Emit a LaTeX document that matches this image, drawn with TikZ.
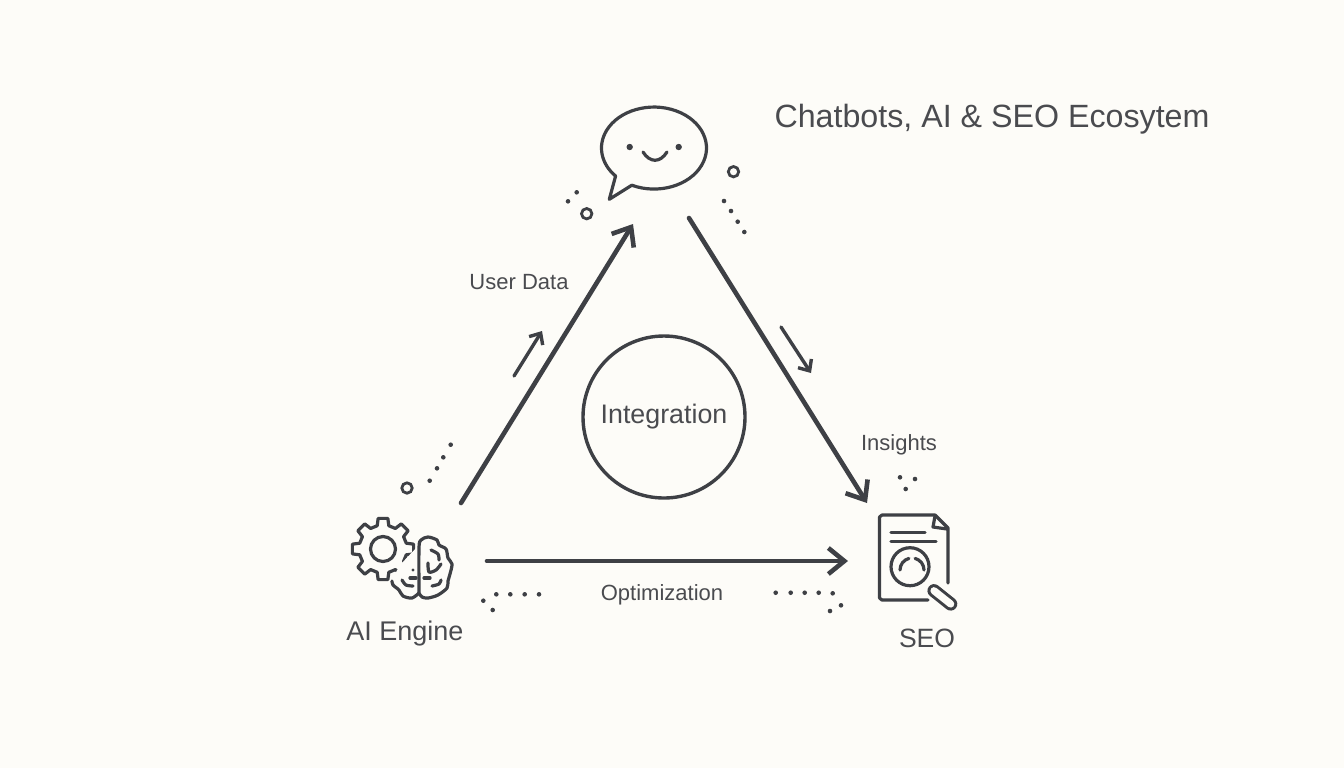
\documentclass[tikz,border=0pt]{standalone}
\usepackage{fontspec}
\setmainfont{Liberation Sans}
\usetikzlibrary{arrows.meta}
\definecolor{inkgray}{HTML}{3E4045}
\definecolor{textgray}{HTML}{4A4B4F}
\definecolor{paper}{HTML}{FDFCF8}
\tikzset{
	mainarrow/.style={draw=inkgray, line width=2.3pt, line cap=round, -{Straight Barb[length=8pt,width=13pt,line width=2.3pt]}},
	smallarrow/.style={draw=inkgray, line width=1.7pt, line cap=round, -{Straight Barb[length=4.5pt,width=8pt,line width=1.7pt]}},
	iconline/.style={draw=inkgray, line width=1.6pt, line cap=round, line join=round},
	ring/.style={draw=inkgray, line width=1.4pt},
	speck/.style={fill=inkgray},
	lbl/.style={text=textgray, inner sep=0pt},
}
\begin{document}
\begin{tikzpicture}[x=0.5pt,y=0.5pt,yscale=-1]
	\fill[paper] (0,0) rectangle (1344,768);
	\useasboundingbox (0,0) rectangle (1344,768);

	% arrow ends
	\coordinate (engineup) at (461,503);
	\coordinate (chatin) at (633,224);
	\coordinate (chatout) at (689,218);
	\coordinate (seoin) at (867,503);
	\coordinate (engineright) at (487,561);
	\coordinate (seoleft) at (848,561);
	\coordinate (hintupa) at (514,376);
	\coordinate (hintupb) at (542,331);
	\coordinate (hintdowna) at (781,327);
	\coordinate (hintdownb) at (811,373);

	\draw[mainarrow] (engineup) -- (chatin);
	\draw[mainarrow] (chatout) -- (seoin);
	\draw[mainarrow] (engineright) -- (seoleft);
	\draw[smallarrow] (hintupa) -- (hintupb);
	\draw[smallarrow] (hintdowna) -- (hintdownb);

	% centre
	\node[circle, draw=inkgray, line width=1.7pt, minimum size=81pt, inner sep=0pt, text=textgray, font=\fontsize{13.4}{16}\selectfont] (integration) at (664,417) {Integration};

	% labels
	\node[lbl, font=\fontsize{16.1}{19}\selectfont] (title) at (992,119) {Chatbots, AI \& SEO Ecosytem};
	\node[lbl, font=\fontsize{11}{13}\selectfont] (userdata) at (519,282) {User Data};
	\node[lbl, font=\fontsize{11}{13}\selectfont] (insights) at (899,445) {Insights};
	\node[lbl, font=\fontsize{11}{13}\selectfont] (optimization) at (662,595) {Optimization};
	\node[lbl, font=\fontsize{13.5}{16}\selectfont] (engine) at (405,634) {AI Engine};
	\node[lbl, font=\fontsize{13.25}{16}\selectfont] (seo) at (927,638) {SEO};

	% chat bubble
	\draw[iconline] (631.8,185.2) arc[start angle=115, end angle=-223, x radius=52.5, y radius=41] -- (609.3,199.3) -- cycle;
	\fill[speck] (629.7,147) circle (3.2);
	\fill[speck] (678.7,147) circle (3.2);
	\draw[iconline] (643,152) .. controls (650,163) and (660,163) .. (667,152);

	% gear
	\begin{scope}[shift={(383,549)}]
		\draw[iconline] (-14:24) \foreach \a in {0,45,...,315} { -- (\a-14:24) -- (\a-9:31) -- (\a+9:31) -- (\a+14:24) } -- cycle;
		\draw[iconline] (0,0) circle (12.5);
	\end{scope}

	% brain
	\fill[paper] (419,545) -- (419,596) -- (405,598) -- (390,583) -- (400,565) -- cycle;
	\draw[iconline] plot[smooth] coordinates {(419,593) (419,548) (421,540) (428,537) (437,540) (439,545) (446,549) (448,558) (452,564) (450,574) (448,581) (447,588) (438,595) (428,598) (422,597) (419,593)};
	\draw[iconline] plot[smooth] coordinates {(419,593) (412,598) (403,596) (399,590) (393,585) (392,581)};
	\draw[iconline] plot[smooth] coordinates {(431,550) (438,554) (439,560)};
	\draw[iconline] plot[smooth] coordinates {(428,563) (429,572) (436,570) (441,564)};
	\draw[iconline] (424,578) -- (430,578);
	\draw[iconline] plot[smooth] coordinates {(432,586) (439,584) (441,580)};
	\draw[iconline] (410,578) -- (416,578);
	\draw[iconline] plot[smooth] coordinates {(402,580) (406,585) (413,586)};
	\fill[speck] (413,570) circle (1.7);

	% document
	\draw[iconline] (948,583) -- (948,528) -- (935,515) -- (882,515) -- (879.5,517) -- (879.5,598) -- (882,600) -- (928,600);
	\draw[iconline] (935,516) -- (933,527) -- (947,529);
	\draw[iconline] (891,532.7) -- (925,532.7);
	\draw[iconline] (891,541.7) -- (936,541.7);
	\draw[iconline] (910,566.7) circle (19);
	\draw[iconline] (900,570) arc[start angle=180, end angle=255, radius=12];
	\draw[iconline] (915.1,558.4) arc[start angle=285, end angle=360, radius=12];
	\draw[draw=inkgray, line width=6.6pt, line cap=round] (934,590.7) -- (950.7,604);
	\draw[draw=paper, line width=3.6pt, line cap=round] (934,590.7) -- (950.7,604);

	% rings
	\draw[ring] (407,488) circle (5.2);
	\draw[ring] (733.5,171.7) circle (5.2);
	\draw[ring] (586.7,213.7) circle (5.2);

	% dots
	\foreach \px/\py in {576.7/192.3, 568/201.3, 724/201, 731/211, 737.7/221.7, 744.3/232,
		450.7/444.7, 443.3/457.3, 437/468.3, 429.7/480.7,
		483.3/600.7, 492.7/610, 496.3/594.3, 510.3/594.3, 524.7/594.3, 539/594.3,
		900/477.3, 915/479, 905.7/489,
		775.7/592.7, 790.7/592.7, 804.7/592.7, 818.7/592.7, 832.7/593.3, 841/605.3, 830/611}
		\fill[speck] (\px,\py) circle (2.3);
\end{tikzpicture}
\end{document}
